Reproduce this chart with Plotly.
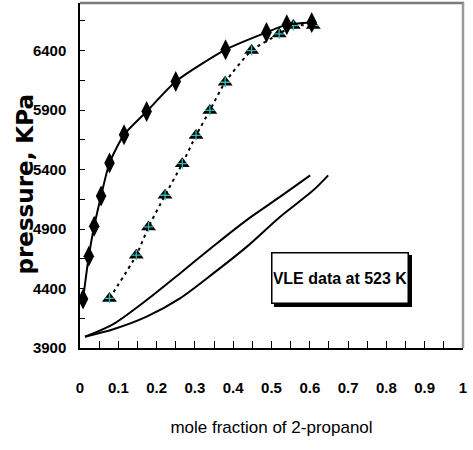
import plotly.graph_objects as go

# liquid-phase (diamonds)
liq_x = [0.008, 0.023, 0.037, 0.055, 0.077, 0.115, 0.174, 0.250, 0.380, 0.487, 0.540, 0.605]
liq_p = [4311, 4672, 4923, 5178, 5455, 5693, 5888, 6140, 6408, 6553, 6618, 6637]

# vapour-phase (triangles)
vap_x = [0.077, 0.147, 0.179, 0.222, 0.267, 0.303, 0.339, 0.379, 0.448, 0.520, 0.557, 0.609]
vap_p = [4317, 4680, 4918, 5184, 5449, 5687, 5897, 6134, 6400, 6540, 6610, 6610]

# lower model curves
upper_x = [0.013, 0.087, 0.174, 0.261, 0.348, 0.435, 0.522, 0.601]
upper_p = [3995, 4101, 4303, 4527, 4755, 4975, 5170, 5351]
lower_x = [0.013, 0.087, 0.174, 0.261, 0.348, 0.435, 0.522, 0.609, 0.648]
lower_p = [3995, 4057, 4163, 4317, 4527, 4750, 5002, 5225, 5351]

x_ticks = [0, 0.1, 0.2, 0.3, 0.4, 0.5, 0.6, 0.7, 0.8, 0.9, 1]
x_tick_text = ["0", "0.1", "0.2", "0.3", "0.4", "0.5", "0.6", "0.7", "0.8", "0.9", "1"]
y_ticks = [3900, 4400, 4900, 5400, 5900, 6400]

annotation_text = "VLE data at 523 K"
x_title = "mole fraction of 2-propanol"
y_title = "pressure, KPa"

SANS = "Liberation Sans, Arial, sans-serif"

fig = go.Figure()

fig.add_trace(go.Scatter(x=upper_x, y=upper_p, mode="lines",
                         line=dict(color="black", width=2, shape="spline", smoothing=0.8),
                         showlegend=False, hoverinfo="skip"))
fig.add_trace(go.Scatter(x=lower_x, y=lower_p, mode="lines",
                         line=dict(color="black", width=2, shape="spline", smoothing=0.8),
                         showlegend=False, hoverinfo="skip"))

fig.add_trace(go.Scatter(x=vap_x, y=vap_p, mode="lines+markers",
                         line=dict(color="black", width=2, dash="3px,4px", shape="spline", smoothing=0.6),
                         marker=dict(symbol="triangle-up", size=13, color="black"),
                         showlegend=False))
fig.add_trace(go.Scatter(x=vap_x, y=vap_p, mode="markers",
                         marker=dict(symbol="cross-thin", size=7,
                                     line=dict(color="#33bbbb", width=1.3)),
                         showlegend=False))

fig.add_trace(go.Scatter(x=liq_x, y=liq_p, mode="lines+markers",
                         line=dict(color="black", width=2, shape="spline", smoothing=0.6),
                         marker=dict(symbol="diamond-tall", size=15, color="black"),
                         showlegend=False))

# shadow + box for the annotation
box = dict(x=0.680, y=4491, xref="x", yref="y", showarrow=False,
           width=133, height=47, borderpad=1, borderwidth=1.5)
fig.add_annotation(**box, text=" ", bgcolor="black", bordercolor="black", xshift=3, yshift=-3,
                   font=dict(family=SANS, size=16, color="black"))
fig.add_annotation(**box, text=annotation_text, bgcolor="white", bordercolor="black",
                   font=dict(family=SANS, size=16, color="black", weight="bold"))

# y-axis title placed as a rotated annotation
fig.add_annotation(x=-0.1436, y=0.474, xref="paper", yref="paper", text=y_title,
                   textangle=-90, showarrow=False, xanchor="center", yanchor="middle",
                   font=dict(family="DejaVu Sans", size=23, color="black", weight="bold"))

# gray frame top/right
fig.add_shape(type="line", xref="paper", yref="paper", x0=0, x1=1.003, y0=1, y1=1,
              line=dict(color="#7a7a7a", width=2.5))
fig.add_shape(type="line", xref="paper", yref="paper", x0=1, x1=1, y0=0, y1=1,
              line=dict(color="#9a9a9a", width=2.5))

fig.update_layout(
    width=473, height=450,
    margin=dict(l=80, r=10, t=3, b=102),
    paper_bgcolor="white", plot_bgcolor="white",
    showlegend=False,
)

fig.update_xaxes(
    range=[0, 1], tickvals=x_ticks, ticktext=x_tick_text,
    showgrid=False, zeroline=False,
    showline=True, linecolor="black", linewidth=1.5,
    ticks="inside", ticklen=7, tickwidth=1, tickcolor="black",
    minor=dict(dtick=0.05, tick0=0, ticks="inside", ticklen=7, tickwidth=1, tickcolor="black"),
    tickfont=dict(family=SANS, size=15, color="black", weight="bold"),
    ticklabelstandoff=25,
    title=dict(text=x_title, font=dict(family=SANS, size=17, color="black"), standoff=26),
)
fig.update_yaxes(
    range=[3900, 6800], tickvals=y_ticks,
    showgrid=False, zeroline=False,
    showline=True, linecolor="black", linewidth=1.5,
    ticks="inside", ticklen=5, tickwidth=1, tickcolor="black",
    minor=dict(dtick=250, tick0=3900, ticks="inside", ticklen=5, tickwidth=1, tickcolor="black"),
    tickfont=dict(family=SANS, size=15, color="black", weight="bold"),
    ticklabelstandoff=9,
)

fig.write_html("out.html")
